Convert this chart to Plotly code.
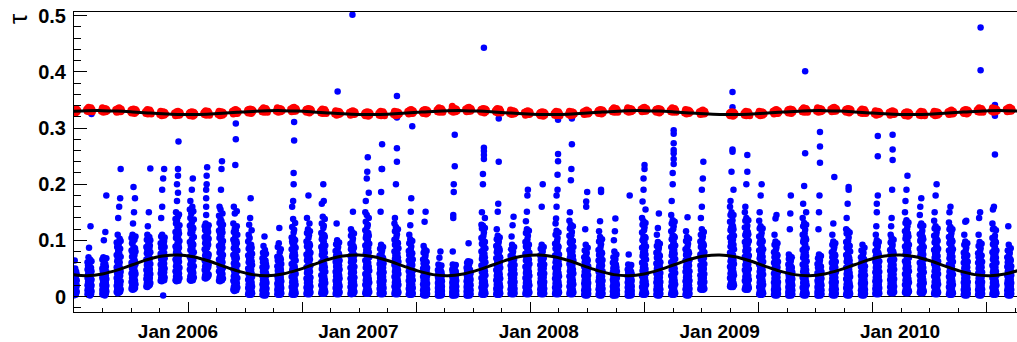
import pandas as pd
import plotly.graph_objects as go

# Each dark period: (new-moon date,
#                    molecular optical depth per night [1e-3], nights from -6 to +6 days,
#                    aerosol optical depth per night   [1e-3], nights from -4 to +4 days,
#                    nights separated by "|")
dark_2005 = [
    ("2005-06-06", "330 333 328 334 331 329 335 332 327 331 334 329 332",
     "3 9 17 26 38|6 12 21 33 47|2 8 15 24 30|5 11 19 28 41|4 10 18 35 64|7 14 22 31 50|3 13 25 36|6 16 27 44|9 20 29 39"),
    ("2005-07-06", "333 330 335 331 337 329 332 334 330 336 331 333 329",
     "4 11 20 33 48 61|7 15 26 39 55|3 9 18 29 44 70|5 13 23 37 52 87|8 17 28 42 58|2 10 21 34 47 66|6 14 25 40 125|4 12 22 31 51|9 19 30 45 63 325"),
    ("2005-08-05", "330 333 336 332 328 334 331 335 333 329 334 332 331",
     "5 12 21 34 50 66|3 9 18 30 45|7 15 26 38 57 70|4 11 23 36 49 100|8 17 29 41 62|2 10 20 33 46|6 14 27 43 58 115|5 13 24 37 53|9 19 31 44 68 180"),
    ("2005-09-03", "333 330 328 332 335 331 329 336 330 332 329 334 331",
     "8 19 33 52 74 96|12 26 41 63 88|6 15 30 47 69 110|10 23 38 58 81 140|14 29 45 66 92|7 18 35 55 77 160|11 24 40 61 103|9 21 37 50 85 175|13 27 44 71 99 227"),
    ("2005-10-03", "329 332 327 333 330 328 334 331 326 330 333 328 331",
     "14 26 41 60 82 104|18 33 50 71 95|12 24 39 57 79 110|21 37 55 76 98 130|16 29 46 65 88 195|13 31 48 68 150|19 35 53 74 101|15 28 44 63 86 175|22 40 58 80 107"),
    ("2005-11-02", "329 326 331 327 333 325 328 330 326 332 327 329 325",
     "18 31 47 66 88|23 38 56 77 101|17 29 44 62 84 110|26 42 60 81 125|20 34 51 70 93|19 36 54 73 96 150|28 45 64 86 106|21 33 49 68 91|24 40 58 79 100 228"),
    ("2005-12-01", "324 327 330 326 322 328 325 329 327 323 328 326 325",
     "28 41 57 76 95|33 48 66 87 107 140|27 39 54 72 92|36 52 70 90 110 160 190|30 44 61 80 101|2 31 46 63 84 210|38 55 74 94|29 43 59 78 99 227|34 50 68 88 105"),
    ("2005-12-31", "327 324 322 326 329 325 323 330 324 326 323 328 325",
     "29 45 66 89 115 138|35 54 78 104 130 150|27 42 61 84 108|39 59 83 110 135 170 200|31 49 71 95 123|37 56 80 106 142 185 215 227|28 47 68 92 118 276|41 62 87 112 146|33 51 74 99 127"),
]

dark_2006 = [
    ("2006-01-29", "324 327 322 328 325 323 329 326 321 325 328 323 326",
     "30 48 71 97 126 155|36 57 83 112 140 170|28 44 66 91 119|40 62 89 118 148|32 51 75 102 132 190|38 59 86 115 160|29 46 69 94 123 210|42 65 92 121 152|34 54 79 106 137"),
    ("2006-02-28", "327 324 329 325 331 323 326 328 324 330 325 327 323",
     "33 47 64 84 106 125|38 54 73 95 118|32 45 61 80 101 130|41 58 78 99 145 160 175 190|35 50 68 89 112 200 215|34 48 66 87 109 230|40 56 76 97 121|36 52 71 92 115|39 57 75 103 127"),
    ("2006-03-29", "324 327 330 326 322 328 325 329 327 323 328 326 325",
     "28 45 66 90 117 144|34 54 78 104 131 160|27 42 62 86 112|38 59 84 110 138 155|30 49 71 96 123 190|36 56 81 107 134 227|29 47 68 93 120 241|40 61 87 114 148|32 51 74 99 128"),
    ("2006-04-27", "330 327 325 329 332 328 326 333 327 329 326 331 328",
     "12 28 49 74 101 130|17 36 59 86 115 160|10 25 45 69 96|21 41 65 92 121 148|14 31 53 79 107 234|19 38 62 89 118 280 308|11 27 47 72 99|23 44 68 95 125 152|16 33 56 82 110"),
    ("2006-05-27", "329 332 327 333 330 328 334 331 326 330 333 328 331",
     "4 15 30 50 73 98|8 22 39 61 85 110|3 12 26 45 67 128|10 25 43 64 90 104|5 17 33 54 79 140|7 20 37 58 82 175|3 14 28 48 70 92|9 24 41 63 87 118|6 18 35 56 76"),
    ("2006-06-25", "332 329 334 330 336 328 331 333 329 335 330 332 328",
     "3 11 22 36 52 68|7 17 29 44 61 78|2 9 19 32 47 90|9 20 33 49 65 72|4 13 25 39 55 107|8 18 31 46 63 83|2 10 21 35 50 64|6 16 28 42 58 76|5 14 24 38 53"),
    ("2006-07-25", "330 333 336 332 328 334 331 335 333 329 334 332 331",
     "4 12 23 37 54 71|8 18 31 46 64 88|3 10 20 34 49 65|10 21 35 51 69 95|5 14 26 41 57 122|7 17 29 44 61 79|3 11 22 36 52 69|9 19 33 48 66 84|6 15 27 42 58"),
    ("2006-08-23", "334 331 329 333 336 332 330 337 331 333 330 335 332",
     "4 17 35 58 84 105|8 25 46 71 98 124 160|3 13 29 50 75 95|11 29 51 77 105 138 170|5 19 38 62 89 114 200 220|7 22 42 66 93 119 278 311|3 15 32 54 79 101|10 27 48 73 100 131|6 21 40 64 87"),
    ("2006-09-22", "330 333 328 334 331 329 335 332 327 331 334 329 332",
     "5 16 32 52 75 98|9 24 42 64 89 113 140|4 13 28 47 69 90|11 27 46 69 94 120|6 19 36 57 81 104 180|8 22 40 61 85 109|4 14 30 50 72 94 130|10 26 44 66 91 116|7 18 34 55 78"),
    ("2006-10-22", "330 327 332 328 334 326 329 331 327 333 328 330 326",
     "6 20 38 61 88 113|10 28 49 74 102 130 165|5 16 33 55 81 105|13 32 55 82 111 142|7 23 42 66 94 122 200|9 26 46 70 98 126 170|5 18 35 58 84 109|12 30 52 78 106 138|8 24 44 68 91"),
    ("2006-11-20", "325 328 331 327 323 329 326 330 328 324 329 327 326",
     "5 15 28 44 62 81|9 21 36 53 72 93|4 12 24 39 57 73 130|11 24 40 58 78 100|6 17 31 47 66 85 365|8 19 34 50 69 88|4 13 26 42 60 77|10 22 38 55 75 96|7 18 32 48 64"),
    ("2006-12-20", "328 325 323 327 330 326 324 331 325 327 324 329 326",
     "5 17 32 51 72 94|10 24 41 61 84 108 120|4 13 27 45 66 86|12 28 46 68 91 115|7 19 36 56 78 98 502|9 22 39 59 81 103 151|5 15 30 48 70 90|11 26 43 64 87 112|8 20 34 53 74"),
]

dark_2007 = [
    ("2007-01-19", "324 327 322 328 325 323 329 326 321 325 328 323 326",
     "6 21 40 64 91 118 150|10 29 51 76 104 133 170|5 17 35 57 83 108|13 33 56 83 112 145 210|7 24 44 68 96 124 222|9 27 48 73 101 128 248|5 19 37 60 87 113|12 31 53 79 108 140 185|8 25 46 70 94"),
    ("2007-02-17", "326 323 328 324 330 322 325 327 323 329 324 326 322",
     "5 14 26 41 58 73|8 20 33 49 66 85|4 11 22 36 52 67 151|10 22 37 53 71 92 186|6 16 29 45 61 78 227|8 18 31 47 64 82 227 271|4 12 24 39 55 70|9 21 35 51 68 88|6 15 28 43 59"),
    ("2007-03-19", "324 327 330 326 322 328 325 329 327 323 328 326 325",
     "5 18 35 56 80 101 130|9 25 44 67 92 116 140|4 14 30 50 73 92|12 29 49 73 99 124 200|6 20 38 60 84 106|8 23 42 64 88 111 240 264 319 357|4 16 32 53 77 96|10 27 47 70 95 120|7 21 40 62 86"),
    ("2007-04-17", "330 327 325 329 332 328 326 333 327 329 326 331 328",
     "4 14 28 45 64 81|7 20 35 53 74 95 110|3 10 23 39 58 73|9 23 39 58 80 102 127|5 16 30 48 68 85 151|6 18 33 51 71 89 175|3 12 25 42 61 77|8 21 37 56 77 99 303|5 15 29 46 66"),
    ("2007-05-16", "328 331 326 332 329 327 333 330 325 329 332 327 330",
     "3 11 22 35 50 66|7 16 28 43 59 78 90|2 8 18 30 45 59|8 19 32 47 64 84 133|4 12 24 38 53 70|6 14 26 41 56 74 151|2 9 20 33 48 62|7 17 30 45 61 81|5 13 23 37 51"),
    ("2007-06-15", "332 329 334 330 336 328 331 333 329 335 330 332 328",
     "2 8 15 24 35 47|5 12 20 30 41 57|2 6 13 22 32 42|6 14 23 33 45 69|3 9 17 26 37 50|4 11 19 29 40 53 80|2 7 14 23 34 45|5 13 21 31 43 55|3 10 18 27 38"),
    ("2007-07-14", "330 333 339 332 328 334 331 335 333 329 334 332 331",
     "2 8 16 25 36 48|5 12 21 31 43 57 80|2 6 13 22 33 44 140 145|6 14 24 35 46 186 200|3 9 17 27 38 51|4 11 19 29 40 54 232 288|2 7 15 24 34 46|5 13 22 32 44 56|3 10 18 28 39"),
    ("2007-08-12", "334 331 329 333 336 332 330 337 331 333 330 335 332",
     "2 9 17 27 39 51|6 13 22 33 46 60|2 7 14 24 35 46|7 15 25 36 49 63|3 10 19 29 42 55 95|5 12 21 31 44 57|2 8 16 26 37 48|6 14 23 34 47 62|4 11 20 30 41"),
    ("2007-09-11", "330 333 328 334 331 329 335 332 327 331 334 329 332",
     "4 16 33 55 80 104 128|8 24 43 67 94 121 150|3 12 28 48 72 94|10 28 48 73 100 126 200 218|5 19 37 59 84 108|7 22 40 63 89 114 245 252 259 265 443|3 14 30 51 76 98|9 26 45 70 97 122 140|6 20 38 61 86"),
    ("2007-10-11", "331 328 333 329 335 327 330 332 328 334 329 331 327",
     "4 14 29 47 68 90|8 21 37 56 79 102 120|3 11 24 41 61 82|10 24 41 61 85 108 151|5 16 31 50 72 94 165|7 19 34 53 76 98 240 317|3 12 26 44 64 86|9 22 39 59 82 105|6 17 32 51 70"),
    ("2007-11-09", "326 329 332 328 324 330 327 331 329 325 330 328 327",
     "5 13 25 39 55 72|8 19 32 47 64 84|4 10 21 35 50 66 107|10 21 34 50 68 92|6 15 27 42 58 77 127|7 17 29 45 61 80|4 11 23 37 53 69 142|9 20 33 48 66 88|6 14 26 40 56"),
    ("2007-12-09", "328 325 323 327 330 326 324 331 325 327 324 329 326",
     "5 17 33 53 76 97|9 24 42 64 89 113 134|4 13 28 47 69 88|11 27 46 69 95 120 151|6 19 36 57 80 102 180|8 22 39 61 85 108 190|4 15 31 51 74 93|10 26 44 66 92 117|7 20 37 58 78"),
]

dark_2008 = [
    ("2008-01-08", "324 327 322 328 325 323 329 326 321 325 328 323 326",
     "5 13 25 40 56 73|8 19 32 48 65 85|4 10 21 35 51 67|10 21 35 52 70 92 160|6 15 28 43 59 78|7 17 30 46 62 81 200|4 11 23 37 54 70|9 20 34 50 68 88|6 14 26 41 57"),
    ("2008-02-07", "326 323 328 324 330 322 325 327 323 329 324 326 322",
     "5 16 32 51 73 94|9 23 40 61 85 110 130|4 12 27 45 67 86 139|11 26 44 66 91 117 160 180|6 18 35 55 78 99|8 21 38 58 82 104 190 217|4 14 29 49 70 90 241 254 315|10 25 42 63 88 114|7 19 36 56 75"),
    ("2008-03-07", "324 327 330 326 322 328 325 329 327 323 328 326 325",
     "5 18 36 58 83 108 135|9 26 45 69 96 121 150|4 14 31 52 76 95|12 30 50 75 102 128 207|6 21 39 62 87 109 227|8 24 43 66 92 115 271 317 324|4 16 33 55 80 99|11 28 48 72 99 125|7 22 41 64 88"),
    ("2008-04-06", "329 326 324 328 331 327 325 332 326 328 325 330 327",
     "3 11 23 37 53 70|7 17 29 44 61 82|2 8 18 31 46 63 120|9 19 32 48 66 92|4 13 25 40 56 75 160 169|6 15 27 42 59 78|2 9 20 34 49 67 186|8 18 30 46 64 87|5 12 24 38 54"),
    ("2008-05-05", "328 331 326 332 329 327 333 330 325 329 332 327 330",
     "3 13 27 44 64 83|7 19 34 52 74 98 116|2 9 21 37 56 75|9 22 38 57 80 106 134|4 15 29 47 67 88|6 17 32 50 71 93 186 190|2 11 24 40 60 79|8 20 36 55 77 102|5 14 28 45 65"),
    ("2008-06-03", "332 329 334 330 336 328 331 333 329 335 330 332 328",
     "2 9 18 30 43 60|6 14 24 36 50 70|2 7 15 26 39 53 100|7 16 27 40 55 80|3 10 20 32 46 64 116|5 12 22 34 48 67 139|2 8 17 28 41 57|6 15 25 38 52 75|4 11 21 33 45"),
    ("2008-07-03", "330 333 336 332 328 334 331 335 333 329 334 332 331",
     "2 8 16 25 36 48|5 12 21 31 42 57|2 6 13 22 32 43 75|6 14 23 33 44 55|3 9 17 27 38 50 180|4 11 19 29 40 53|2 7 14 23 34 45|5 13 22 32 43 56|3 10 18 28 39"),
    ("2008-08-01", "334 331 329 333 336 332 330 337 331 333 330 335 332",
     "4 17 36 60 87 114 140|8 25 46 72 100 128 169|3 13 30 52 78 101|10 29 51 78 107 134 190 210|5 20 40 64 92 118|7 23 43 68 96 123 227 234|3 15 33 56 82 106|9 27 49 75 104 131 155|6 21 41 66 89"),
    ("2008-08-30", "330 333 328 334 331 329 335 332 327 331 334 329 332",
     "3 12 25 41 59 78|7 18 32 49 69 90 110|2 9 20 35 53 70|8 21 36 54 75 97 122|4 14 28 44 63 83|6 16 30 47 66 87 148|2 10 22 38 56 74|7 19 34 52 72 94|5 13 26 42 61"),
    ("2008-09-29", "332 329 334 330 336 328 331 333 329 335 330 332 328",
     "4 18 37 61 88 116 145|8 26 47 73 102 130 170|3 14 31 53 79 102|10 30 52 79 109 136 200 220|5 21 41 65 93 120|7 24 44 69 97 125 236 245 255 261 273 290 296|3 16 34 57 83 107|9 28 50 76 105 133|6 22 42 67 91"),
    ("2008-10-28", "327 330 333 329 325 331 328 332 330 326 331 329 328",
     "3 13 27 44 64 84|7 19 34 52 74 99 116|2 10 22 38 57 76|9 22 38 57 80 106|4 15 29 47 67 89 141|6 17 32 50 71 94|2 11 24 40 60 80|8 20 36 55 77 103|5 14 28 45 65"),
    ("2008-11-27", "329 326 324 328 331 327 325 332 326 328 325 330 327",
     "13 24 38 55 75 98|16 31 47 66 88 110 140|12 21 34 50 70 90|18 34 51 71 94 120 160 190|14 27 42 60 81 103|15 29 45 63 84 107 210|12 23 36 53 73 94 240|17 33 49 68 91 115|14 26 40 58 79"),
]

dark_2009 = [
    ("2009-01-26", "324 327 322 328 325 323 329 326 321 325 328 323 326",
     "18 33 53 78 105 133 160|22 41 63 89 118 145 170|17 29 47 71 97 121|25 45 68 95 124 150 222|19 36 57 82 109 131|21 39 60 86 113 136 258 262 324 337 364|17 31 50 74 101 125|24 43 65 92 120 145 190|20 38 58 84 108"),
    ("2009-02-25", "326 323 328 324 330 322 325 327 323 329 324 326 322",
     "13 28 47 71 97 123 150|17 35 56 81 109 135 160|12 24 42 65 90 112|20 39 60 86 114 140 200|14 31 51 76 102 122|16 33 54 79 106 126 222 252|12 26 44 68 94 115|19 37 58 84 111 136|15 30 49 73 99"),
    ("2009-03-26", "324 327 330 326 322 328 325 329 327 323 328 326 325",
     "4 17 35 57 82 107 135|8 25 44 68 95 121 150|3 13 29 50 74 96|10 29 49 74 101 125 180|5 20 38 61 86 108|7 23 41 64 90 113 200|3 15 32 54 78 100|9 27 47 71 98 121|6 21 39 62 84"),
    ("2009-04-25", "330 327 325 329 332 328 326 333 327 329 326 331 328",
     "3 12 25 41 60 79|7 18 32 50 70 92 110|2 9 20 35 53 71|8 21 36 55 76 98 139|4 14 28 45 64 84|6 16 30 47 67 88 145|2 10 22 38 57 75|7 19 34 52 73 95|5 13 26 43 62"),
    ("2009-05-24", "329 332 327 333 330 328 334 331 326 330 333 328 331",
     "2 8 17 28 41 57|6 13 23 35 49 67 75|2 6 14 24 37 50|7 15 26 39 53 72 120|3 10 19 30 44 60 148|5 12 21 33 46 64 180|2 7 15 26 39 53|6 14 24 37 51 70|4 11 20 31 43"),
    ("2009-06-22", "332 329 334 330 336 328 331 333 329 335 330 332 328",
     "3 16 34 57 83 110 140|7 24 44 69 97 125 165|2 12 29 50 75 101|9 28 49 75 104 131 197|4 19 38 61 88 112|6 22 41 65 93 119 255 334 401|2 14 31 54 79 104|8 26 47 72 101 128 150|5 20 39 63 86"),
    ("2009-07-22", "330 333 336 332 328 334 331 335 333 329 334 332 331",
     "2 8 17 28 42 58|6 13 23 36 51 68|2 6 14 25 38 52 120|7 15 26 40 55 75 150|3 10 19 31 45 61 180|5 12 21 34 48 65 238 267 293|2 7 15 27 40 54|6 14 24 38 53 72|4 11 20 32 44"),
    ("2009-08-20", "334 331 329 333 336 332 330 337 331 333 330 335 332",
     "3 12 25 41 60 79|7 18 32 50 70 92 110|2 9 20 35 53 71|8 21 36 55 76 98 130|4 14 28 45 64 84|6 16 30 47 67 88 213|2 10 22 38 57 75|7 19 34 52 73 95|5 13 26 43 62"),
    ("2009-09-18", "330 333 328 334 331 329 335 332 327 331 334 329 332",
     "3 15 31 51 74 97 120|7 22 40 62 87 112 140|2 11 26 45 67 88|9 25 44 67 93 117 165|4 17 34 55 78 99|6 20 37 59 83 105 190 195|2 13 28 48 70 91|8 23 42 64 90 114|5 18 35 56 80"),
    ("2009-10-18", "330 327 332 328 334 326 329 331 327 333 328 330 326",
     "3 11 23 37 53 70|7 17 29 44 61 82|2 8 18 31 46 63|8 19 32 48 66 92|4 13 25 40 56 75|6 15 27 42 59 78|2 9 20 34 49 67|7 18 30 46 64 87|5 12 24 38 54"),
    ("2009-11-16", "325 328 331 327 323 329 326 330 328 324 329 327 326",
     "5 14 27 43 62 81|8 20 34 51 71 94 110|4 11 23 38 56 74 125|10 22 37 55 76 100 150 165|6 16 30 47 66 86|7 18 32 49 69 90 180 250 286|4 12 25 40 59 78|9 21 35 53 74 97|6 15 28 44 63"),
    ("2009-12-16", "328 325 323 327 330 326 324 331 325 327 324 329 326",
     "7 17 30 46 64 83|10 23 37 54 74 96 110|6 14 26 41 58 77 125|12 25 40 58 79 104 140|8 19 33 50 69 88 190|9 21 35 52 72 92 243 262 288|6 15 28 44 62 80|11 24 39 56 76 101|8 18 31 48 66"),
]

dark_2010 = [
    ("2010-01-15", "324 327 322 328 325 323 329 326 321 325 328 323 326",
     "7 21 40 63 89 116 150|11 29 50 75 103 131 170|6 17 35 57 82 108|13 33 55 82 110 136 190|8 24 44 67 94 120|10 27 47 71 99 125 215|6 19 37 60 86 112|12 31 53 79 107 132|9 25 45 69 92"),
    ("2010-02-14", "326 323 328 324 330 322 325 327 323 329 324 326 322",
     "7 20 38 60 85 111 145|11 28 48 72 99 126 160|6 16 33 54 78 102|13 32 53 78 105 130 175|8 23 42 64 90 113|10 26 45 68 94 117|6 18 35 57 82 106|12 30 51 75 102 126|9 24 43 66 88"),
    ("2010-03-15", "324 327 330 326 322 328 325 329 327 323 328 326 325",
     "5 18 36 58 83 108 135|9 26 45 69 96 121 150|4 14 31 52 76 97|11 30 50 75 102 125 180|6 21 39 62 87 109|8 24 42 65 91 114 200|4 16 33 55 80 101|10 28 48 72 99 121|7 22 40 63 85"),
    ("2010-04-14", "329 326 324 328 331 327 325 332 326 328 325 330 327",
     "4 17 35 57 82 106 132|8 25 44 68 95 120 150|3 13 30 51 75 96|10 29 49 74 101 124 160|5 20 38 61 86 108|7 23 41 64 90 113|3 15 32 54 79 100|9 27 47 71 98 120|6 21 39 62 84"),
    ("2010-05-14", "328 331 326 332 329 327 333 330 325 329 332 327 330",
     "3 12 25 41 60 78|7 18 32 50 70 92 110|2 9 20 35 53 70|8 21 36 55 76 98 133|4 14 28 45 64 83|6 16 30 47 67 87 135|2 10 22 38 57 74|7 19 34 52 73 95|5 13 26 43 62"),
    ("2010-06-12", "332 329 334 330 336 328 331 333 329 335 330 332 328",
     "3 12 25 41 60 77|7 18 32 50 70 90 110|2 9 20 35 53 69 140|8 21 36 55 76 97|4 14 28 45 64 82 150|6 16 30 47 67 86 403 479|2 10 22 38 57 73|7 19 34 52 73 94|5 13 26 43 62"),
    ("2010-07-11", "330 333 336 332 328 334 331 335 333 329 334 332 331",
     "4 16 33 55 79 104 130|8 24 43 66 93 120 155|3 12 28 49 72 93|9 27 47 71 98 121 160|5 19 37 59 84 103|7 22 40 63 88 108 253 322 341|3 14 30 52 76 98|9 26 45 69 96 118|6 20 38 60 82"),
    ("2010-08-10", "334 331 329 333 336 332 330 337 331 333 330 335 332",
     "3 11 23 37 53 70|7 17 29 44 61 82|2 8 18 31 46 63 125|8 19 32 48 66 92|4 13 25 40 56 75|6 15 27 42 59 78|2 9 20 34 49 67|7 18 30 46 64 86|5 12 24 38 54"),
]

# Seasonal fits, sampled on the first day of every month from June 2005
fit_knots = pd.date_range("2005-06-01", periods=64, freq="MS")
fit_aer = [
    0.0390, 0.0370, 0.0400, 0.0473, 0.0565, 0.0658, 0.0720,
    0.0740, 0.0707, 0.0641, 0.0546, 0.0456, 0.0390, 0.0370, 0.0400, 0.0473, 0.0565, 0.0658, 0.0720,
    0.0740, 0.0707, 0.0641, 0.0546, 0.0456, 0.0390, 0.0370, 0.0400, 0.0473, 0.0565, 0.0658, 0.0720,
    0.0740, 0.0707, 0.0641, 0.0546, 0.0456, 0.0390, 0.0370, 0.0400, 0.0473, 0.0565, 0.0658, 0.0720,
    0.0740, 0.0707, 0.0641, 0.0546, 0.0456, 0.0390, 0.0370, 0.0400, 0.0473, 0.0565, 0.0658, 0.0720,
    0.0740, 0.0707, 0.0641, 0.0546, 0.0456, 0.0390, 0.0370, 0.0400, 0.0473,
]
fit_mol = [
    0.3297, 0.3308, 0.3310, 0.3302, 0.3287, 0.3269, 0.3253,
    0.3242, 0.3241, 0.3248, 0.3262, 0.3280, 0.3297, 0.3308, 0.3310, 0.3302, 0.3287, 0.3269, 0.3253,
    0.3242, 0.3241, 0.3248, 0.3262, 0.3280, 0.3297, 0.3308, 0.3310, 0.3302, 0.3287, 0.3269, 0.3253,
    0.3242, 0.3241, 0.3248, 0.3262, 0.3280, 0.3297, 0.3308, 0.3310, 0.3302, 0.3287, 0.3269, 0.3253,
    0.3242, 0.3241, 0.3248, 0.3262, 0.3280, 0.3297, 0.3308, 0.3310, 0.3302, 0.3287, 0.3269, 0.3253,
    0.3242, 0.3241, 0.3248, 0.3262, 0.3280, 0.3297, 0.3308, 0.3310, 0.3302,
]

year_label_dates = ["2006-01-01", "2007-01-01", "2008-01-01", "2009-01-01", "2010-01-01"]
year_labels = ["Jan 2006", "Jan 2007", "Jan 2008", "Jan 2009", "Jan 2010"]

# Time axis: span and tick spacing (major ticks every 4 minor divisions)
x_start = pd.Timestamp("2005-06-04 14:00")
x_end = pd.Timestamp("2010-08-25 16:00")
major_step_days = 230.9
major_ticks = [x_start + pd.Timedelta(days=major_step_days * k) for k in range(9)]
minor_ticks = [x_start + pd.Timedelta(days=major_step_days / 4 * k) for k in range(34)]

# Expand the per-night strings into point lists
aer_x, aer_y, mol_x, mol_y = [], [], [], []
for periods in (dark_2005, dark_2006, dark_2007, dark_2008, dark_2009, dark_2010):
    for new_moon, mol_str, aer_str in periods:
        center = pd.Timestamp(new_moon)
        for j, mol_val in enumerate(mol_str.split()):
            mol_x.append(center + pd.Timedelta(days=j - 6))
            mol_y.append(int(mol_val) / 1000)
        for k, night in enumerate(aer_str.split("|")):
            day = center + pd.Timedelta(days=k - 4)
            for v in night.split():
                aer_x.append(day)
                aer_y.append(int(v) / 1000)

fig = go.Figure()
fig.add_trace(go.Scatter(
    x=aer_x, y=aer_y, mode="markers",
    marker=dict(size=6.5, color="#0000ff", line=dict(width=0)),
    showlegend=False, hoverinfo="skip",
))
fig.add_trace(go.Scatter(
    x=mol_x, y=mol_y, mode="markers",
    marker=dict(size=7, color="#ff0000", line=dict(width=0)),
    showlegend=False, hoverinfo="skip",
))
fig.add_trace(go.Scatter(
    x=fit_knots, y=fit_aer, mode="lines",
    line=dict(color="black", width=3, shape="spline", smoothing=1.0),
    showlegend=False, hoverinfo="skip",
))
fig.add_trace(go.Scatter(
    x=fit_knots, y=fit_mol, mode="lines",
    line=dict(color="black", width=3, shape="spline", smoothing=1.0),
    showlegend=False, hoverinfo="skip",
))
# carrier for the year-label axis
fig.add_trace(go.Scatter(x=[], y=[], xaxis="x2", yaxis="y", showlegend=False))

x_label_font = dict(family="Liberation Sans", size=19, color="black", weight="bold")
y_label_font = dict(family="Liberation Sans", size=20, color="black", weight="bold")

fig.update_layout(
    width=1017, height=342,
    margin=dict(l=74, r=0, t=12, b=26),
    paper_bgcolor="white", plot_bgcolor="white",
    showlegend=False,
    xaxis=dict(
        type="date", range=[x_start, x_end],
        tickmode="array", tickvals=major_ticks, showticklabels=False,
        ticks="inside", ticklen=10, tickwidth=1, tickcolor="black",
        minor=dict(tickmode="array", tickvals=minor_ticks, ticks="inside",
                   ticklen=4, tickwidth=1, tickcolor="black", showgrid=False),
        showline=True, linecolor="black", linewidth=1, mirror=True,
        showgrid=False, zeroline=False,
    ),
    xaxis2=dict(
        type="date", range=[x_start, x_end], overlaying="x", anchor="y", side="bottom",
        tickmode="array", tickvals=year_label_dates, ticktext=year_labels,
        ticks="", showline=False, showgrid=False, zeroline=False,
        tickfont=x_label_font, ticklabelstandoff=6,
    ),
    yaxis=dict(
        range=[-0.0276, 0.5067],
        tickmode="linear", tick0=0, dtick=0.1,
        ticks="inside", ticklen=13, tickwidth=1, tickcolor="black",
        minor=dict(dtick=0.02, ticks="inside", ticklen=7, tickwidth=1,
                   tickcolor="black", showgrid=False),
        showline=True, linecolor="black", linewidth=1,
        showgrid=False, zeroline=True, zerolinecolor="black", zerolinewidth=1,
        tickfont=y_label_font, ticklabelstandoff=3,
    ),
    annotations=[dict(
        text="τ", textangle=-90, showarrow=False,
        xref="paper", yref="paper", x=-0.0599, y=0.978,
        xanchor="center", yanchor="middle",
        font=dict(family="Liberation Sans", size=26, color="black"),
    )],
)

fig.write_html("out.html")
